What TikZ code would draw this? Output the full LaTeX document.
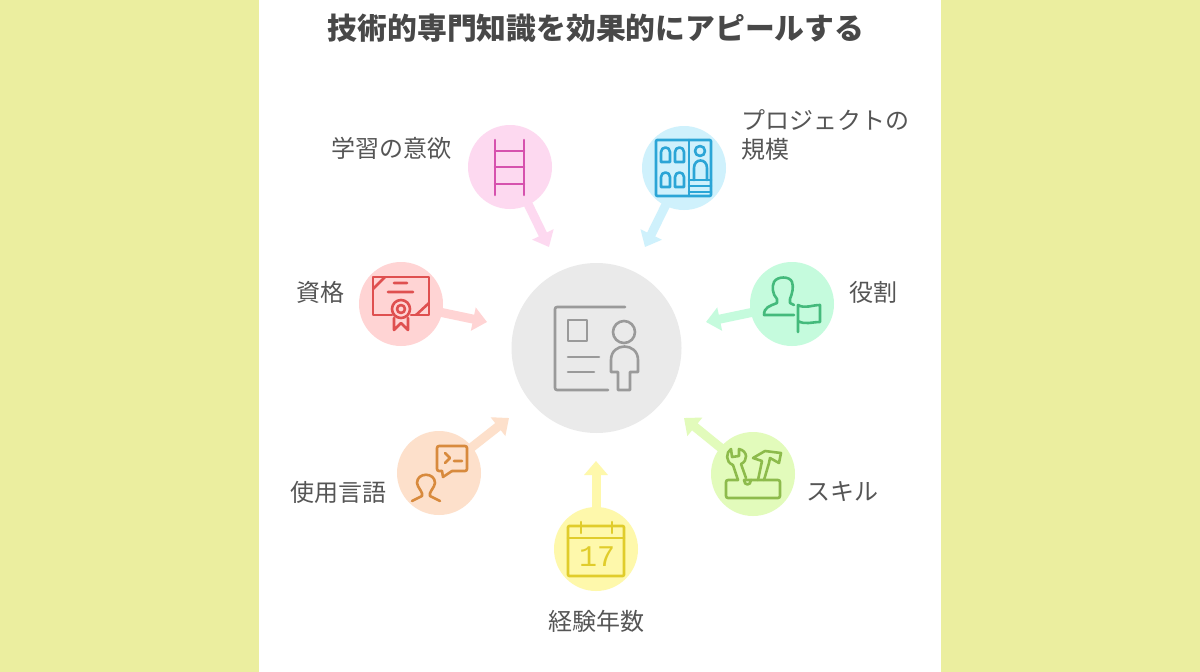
\documentclass[tikz,border=0pt]{standalone}
\usepackage{fontspec}
\setmainfont{Noto Sans CJK JP}
\newfontfamily\monofam{Liberation Mono}
\usetikzlibrary{arrows.meta,calc}
\definecolor{bgc}{HTML}{EBEE9F}
\definecolor{txc}{HTML}{555555}
\definecolor{ttc}{HTML}{484848}
\definecolor{cc}{HTML}{EAEAEA}\definecolor{ci}{HTML}{9A9A9A}
\definecolor{pc}{HTML}{FDD9F0}\definecolor{pi}{HTML}{D652AE}
\definecolor{bc}{HTML}{CFF1FC}\definecolor{bi}{HTML}{2BA5D6}
\definecolor{gc}{HTML}{C5FBDD}\definecolor{gi}{HTML}{44BA7C}
\definecolor{rc}{HTML}{FFD4D4}\definecolor{ri}{HTML}{DF5050}
\definecolor{oc}{HTML}{FDE0CB}\definecolor{oi}{HTML}{D88A3D}
\definecolor{yc}{HTML}{FEF8AB}\definecolor{yi}{HTML}{E0CC2B}
\definecolor{lc}{HTML}{E2FBBB}\definecolor{li}{HTML}{8DBB4C}
\tikzset{
  x=1pt,y=-1pt,
  spot/.style={circle,inner sep=0pt,minimum size=84pt,fill=#1},
  hub/.style={circle,inner sep=0pt,minimum size=170pt,fill=cc},
  lab/.style={text=txc,font=\fontsize{24pt}{29pt}\selectfont,inner sep=0pt,align=left},
  ttl/.style={text=ttc,font=\bfseries\fontsize{29.8pt}{34pt}\selectfont,inner sep=0pt},
  feed/.style={draw=#1,line width=9pt,-{Triangle[width=23pt,length=14pt]}},
  ico/.style={draw=#1,line width=2.6pt,line join=round,line cap=round},
}
\begin{document}
\begin{tikzpicture}
\useasboundingbox (0,0) rectangle (1200,672);
\fill[bgc] (0,0) rectangle (1200,672);
\fill[white] (259,0) rectangle (941,672);
\node[ttl] (title) at (596,28) {技術的専門知識を効果的にアピールする};
\node[hub] (hubn) at (596.5,348) {};
\node[spot=pc] (learn) at (510,167) {};
\node[spot=bc] (proj) at (684,168) {};
\node[spot=gc] (role) at (792,304) {};
\node[spot=rc] (cert) at (401,304) {};
\node[spot=oc] (lang) at (439,473) {};
\node[spot=yc] (year) at (596,549) {};
\node[spot=lc] (skill) at (753,474) {};
\coordinate (t1) at (549,247);
\coordinate (t2) at (645,247);
\coordinate (t3) at (706,322);
\coordinate (t4) at (487,322);
\coordinate (t5) at (509,418);
\coordinate (t6) at (596,461);
\coordinate (t7) at (684,418);
\draw[feed=pc] (learn.center) -- (t1);
\draw[feed=bc] (proj.center) -- (t2);
\draw[feed=gc] (role.center) -- (t3);
\draw[feed=rc] (cert.center) -- (t4);
\draw[feed=oc] (lang.center) -- (t5);
\draw[feed=yc] (year.center) -- (t6);
\draw[feed=lc] (skill.center) -- (t7);
\node[lab,anchor=center] (l1) at (391,148) {学習の意欲};
\node[lab,anchor=north west] (l2) at (741,109) {プロジェクトの\\規模};
\node[lab] (l3) at (873,292) {役割};
\node[lab] (l4) at (320,292) {資格};
\node[lab] (l5) at (338,492) {使用言語};
\node[lab] (l6) at (842,492) {スキル};
\node[lab] (l7) at (596,621) {経験年数};
% hub icon
\draw[ico=ci,rounded corners=2pt] (625,307) -- (555,307) -- (555,390) -- (608,390);
\draw[ico=ci] (568,320) rectangle (587,341);
\draw[ico=ci] (568,357) -- (599,357) (568,372) -- (594,372);
\draw[ico=ci] (624,332) circle (11);
\draw[ico=ci] (618,390) -- (618,372) -- (611,372) -- (611,360) .. controls (611,342) and (638,342) .. (638,360) -- (638,372) -- (630,372) -- (630,390) -- cycle;
% ladder
\draw[ico=pi] (495,140) -- (495,195) (524,140) -- (524,195) (495,151) -- (524,151) (495,167) -- (524,167) (495,184) -- (524,184);
% project
\draw[ico=bi,rounded corners=1pt] (656,140) rectangle (711,196);
\draw[ico=bi] (689,140) -- (689,196) (689,180) -- (711,180) (689,186) -- (711,186) (689,192) -- (711,192);
\foreach \px/\py in {661/147,675/147,661/172,675/172}
  \draw[ico=bi] ($(\px,\py)+(0,15)$) -- ($(\px,\py)+(0,5)$) .. controls ($(\px,\py)+(0,-1)$) and ($(\px,\py)+(9,-1)$) .. ($(\px,\py)+(9,5)$) -- ($(\px,\py)+(9,15)$) -- cycle;
\draw[ico=bi] (700,151) circle (5);
\draw[ico=bi] (694,180) -- (694,168) .. controls (694,158) and (707,158) .. (707,168) -- (707,180);
% role
\draw[ico=gi] (794,315) -- (764,315) .. controls (764,307) and (770,306) .. (777,303) -- (777,299) .. controls (772,294) and (772,286) .. (774,282) .. controls (777,276) and (790,276) .. (792,282) .. controls (794,287) and (792,294) .. (790,299) -- (790,303) -- (794,305);
\draw[ico=gi] (798,332) -- (798,305) .. controls (805,309) and (812,305) .. (820,305) -- (820,322) .. controls (812,322) and (805,325) .. (798,321);
% certificate
\draw[ico=ri] (392,315) -- (373,315) -- (373,277) -- (429,277) -- (429,315) -- (411,315);
\draw[ico=ri] (373,289) -- (385,277) (416,315) -- (429,303) (394,283) -- (407,283) (388,292) -- (413,292);
\draw[ico=ri] (401,309) circle (9) (401,309) circle (4);
\draw[ico=ri] (394,318) -- (394,330) -- (401,323) -- (408,330) -- (408,318);
% language
\draw[ico=oi,rounded corners=2pt] (442,471) -- (437,471) -- (437,446) -- (467,446) -- (467,471) -- (452,471);
\draw[ico=oi] (442,471) -- (443,477) -- (452,471);
\draw[ico=oi] (445,453) -- (450,458) -- (445,463) (454,461) -- (462,461);
\draw[ico=oi] (412,501) -- (422,496) .. controls (424,493) and (417,487) .. (417,483) .. controls (417,472) and (435,472) .. (435,483) .. controls (435,487) and (428,493) .. (430,496) -- (440,501);
% calendar
\draw[ico=yi,rounded corners=1pt] (568,526) rectangle (624,576);
\draw[ico=yi] (568,538) -- (624,538) (581,522) -- (581,533) (612,522) -- (612,533);
\node[text=yi,inner sep=0pt,font=\monofam\fontsize{30pt}{30pt}\selectfont] (num) at (597,557) {17};
% skills
\draw[ico=li,rounded corners=2pt] (738,480) -- (726,480) -- (726,498) -- (780,498) -- (780,480) -- (751,480);
\draw[ico=li] (744,480) -- (751,480) .. controls (751,486) and (744,486) .. (744,480);
\draw[ico=li] (738,480) -- (733,465) .. controls (725,462) and (726,452) .. (731,449) -- (732,457) -- (739,456) -- (739,449) .. controls (748,451) and (748,461) .. (741,464) -- (746,478);
\draw[ico=li] (758,480) -- (762,461) -- (753,458) -- (765,451) -- (781,453) -- (779,463) -- (770,458) -- (769,463) -- (764,480);
\end{tikzpicture}
\end{document}
